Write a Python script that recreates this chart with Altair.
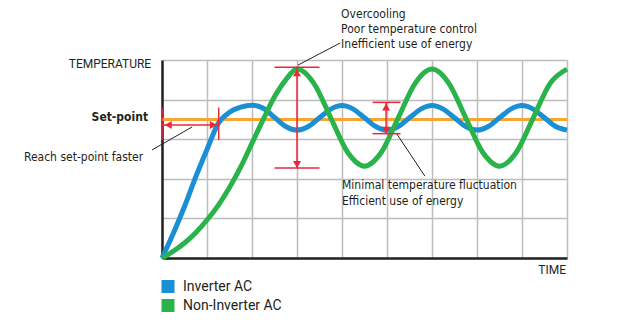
import altair as alt
import pandas as pd

# ---- data ----
series_names = ["Inverter AC", "Non-Inverter AC"]
series_colors = ["#1a8fd5", "#2bb34b"]

inverter_x = [0, 0.25, 0.5, 0.75, 1.0, 1.25, 1.5, 1.75, 2.0, 2.25, 2.5, 2.75, 3.0, 3.25, 3.5,
              3.75, 4.0, 4.25, 4.5, 4.75, 5.0, 5.25, 5.5, 5.75, 6.0, 6.25, 6.5, 6.75, 7.0,
              7.25, 7.5, 7.75, 8.0, 8.25, 8.5, 8.75, 9.0]
inverter_y = [0, 0.62, 1.3, 2.05, 2.74, 3.4, 3.68, 3.81, 3.86, 3.78, 3.55, 3.32, 3.23, 3.32, 3.54,
              3.76, 3.85, 3.76, 3.54, 3.32, 3.23, 3.32, 3.54, 3.76, 3.85, 3.76, 3.54, 3.32, 3.23,
              3.32, 3.54, 3.76, 3.85, 3.76, 3.54, 3.32, 3.23]

noninv_x = [0, 0.25, 0.5, 0.75, 1.0, 1.25, 1.5, 1.75, 2.0, 2.25, 2.5, 2.75, 3.0, 3.375, 3.75,
            4.125, 4.5, 4.875, 5.25, 5.625, 6.0, 6.375, 6.75, 7.125, 7.5, 7.875, 8.25, 8.625, 9.0]
noninv_y = [0, 0.17, 0.38, 0.64, 0.96, 1.33, 1.78, 2.3, 2.9, 3.5, 4.07, 4.5, 4.77, 4.41, 3.54,
            2.67, 2.32, 2.67, 3.54, 4.41, 4.77, 4.41, 3.54, 2.67, 2.32, 2.67, 3.54, 4.41, 4.77]

setpoint = 3.5

# red dimension lines (x1, y1, x2, y2)
red_x1 = [0, 0, 1.26, 3.0, 2.5, 2.5, 4.98, 4.68, 4.68]
red_y1 = [3.36, 2.98, 2.98, 2.27, 4.82, 2.27, 3.14, 3.93, 3.14]
red_x2 = [1.26, 0, 1.26, 3.0, 3.5, 3.5, 4.98, 5.3, 5.3]
red_y2 = [3.36, 3.8, 3.8, 4.82, 4.82, 2.27, 3.93, 3.93, 3.14]

# red arrow heads
head_x = [0.14, 1.14, 3.0, 3.0, 4.98, 4.98]
head_y = [3.36, 3.36, 4.68, 2.36, 3.81, 3.23]
head_shape = ["triangle-left", "triangle-right", "triangle-up", "triangle-down",
              "triangle-up", "triangle-down"]

# black leader lines
lead_x1 = [-0.22, 3.02, 5.22]
lead_y1 = [2.73, 4.87, 3.13]
lead_x2 = [0.67, 3.96, 5.84]
lead_y2 = [3.31, 5.43, 2.07]

# annotation texts (left aligned)
note_text = ["Overcooling", "Poor temperature control", "Inefficient use of energy",
             "Minimal temperature fluctuation", "Efficient use of energy"]
note_x = [3.98, 3.98, 3.98, 4.0, 4.0]
note_y = [6.16, 5.78, 5.40, 1.84, 1.44]

# right aligned labels
rlab_text = ["Reach set-point faster"]
rlab_x = [-0.42]
rlab_y = [2.55]

FONT_N = "Liberation Sans Narrow, DejaVu Sans Condensed, sans-serif"
FONT = "Roboto, sans-serif"
TXT = "#231f20"
RED = "#ee2737"

xs = alt.Scale(domain=[0, 9], nice=False, zero=False)
ys = alt.Scale(domain=[0, 5], nice=False, zero=False)
xa = alt.Axis(values=list(range(10)), labels=False, ticks=False, title=None,
              grid=True, gridColor="#bcbcbc", gridWidth=1.5,
              domainColor="#222222", domainWidth=2.5)
ya = alt.Axis(values=list(range(6)), labels=False, ticks=False, title=None,
              grid=True, gridColor="#bcbcbc", gridWidth=1.5,
              domainColor="#222222", domainWidth=2.5)


def X(field="x:Q"):
    return alt.X(field, scale=xs, axis=xa)


def Y(field="y:Q"):
    return alt.Y(field, scale=ys, axis=ya)


curves = pd.DataFrame(
    {"x": inverter_x + noninv_x,
     "y": inverter_y + noninv_y,
     "series": [series_names[0]] * len(inverter_x) + [series_names[1]] * len(noninv_x),
     "order": list(range(len(inverter_x))) + list(range(len(noninv_x)))}
)

lines = alt.Chart(curves).mark_line(strokeWidth=5, interpolate="monotone").encode(
    x=X(), y=Y(),
    color=alt.Color("series:N",
                    scale=alt.Scale(domain=series_names, range=series_colors),
                    legend=alt.Legend(orient="none", legendX=-1, legendY=217, title=None,
                                      symbolType="square", symbolSize=36,
                                      symbolStrokeWidth=7, labelFont="Roboto",
                                      labelFontSize=14, labelColor=TXT, rowPadding=0,
                                      clipHeight=19, labelOffset=8, padding=0)),
    order="order:Q",
)

sp = alt.Chart(pd.DataFrame({"y": [setpoint]})).mark_rule(
    color="#f8a532", strokeWidth=3
).encode(y=Y())

red_df = pd.DataFrame({"x": red_x1, "y": red_y1, "x2": red_x2, "y2": red_y2})
red = alt.Chart(red_df).mark_rule(color=RED, strokeWidth=1.5).encode(
    x=X(), y=Y(), x2="x2:Q", y2="y2:Q")

heads_df = pd.DataFrame({"x": head_x, "y": head_y, "shape": head_shape})
heads = alt.Chart(heads_df).mark_point(filled=True, color=RED, opacity=1, size=64).encode(
    x=X(), y=Y(), shape=alt.Shape("shape:N", scale=None))

lead_df = pd.DataFrame({"x": lead_x1, "y": lead_y1, "x2": lead_x2, "y2": lead_y2})
leads = alt.Chart(lead_df).mark_rule(color="#222222", strokeWidth=1).encode(
    x=X(), y=Y(), x2="x2:Q", y2="y2:Q")

notes = alt.Chart(pd.DataFrame({"x": note_x, "y": note_y, "t": note_text})).mark_text(
    align="left", baseline="middle", font=FONT_N, fontSize=12, color=TXT
).encode(x=X(), y=Y(), text="t:N")

rlabs = alt.Chart(pd.DataFrame({"x": rlab_x, "y": rlab_y, "t": rlab_text})).mark_text(
    align="right", baseline="middle", font=FONT_N, fontSize=12, color=TXT
).encode(x=X(), y=Y(), text="t:N")

setlab = alt.Chart(pd.DataFrame({"x": [-0.31], "y": [setpoint + 0.06], "t": ["Set-point"]})).mark_text(
    align="right", baseline="middle", font=FONT_N, fontSize=12, fontWeight="bold", color=TXT
).encode(x=X(), y=Y(), text="t:N")

axlabs = alt.Chart(pd.DataFrame({"x": [-0.24, 8.98], "y": [4.9, -0.3],
                                 "t": ["TEMPERATURE", "TIME"]})).mark_text(
    align="right", baseline="middle", font=FONT, fontSize=12, color=TXT
).encode(x=X(), y=Y(), text="t:N")

chart = alt.layer(sp, lines, red, heads, leads, notes, rlabs, setlab, axlabs).properties(
    width=405, height=198,
    padding={"left": 162, "top": 60, "right": 54, "bottom": 71},
    autosize=alt.AutoSizeParams(type="none"),
    background="white",
).configure_view(stroke="transparent")

chart.save("out.html", embed_options={"renderer": "svg", "actions": False})
